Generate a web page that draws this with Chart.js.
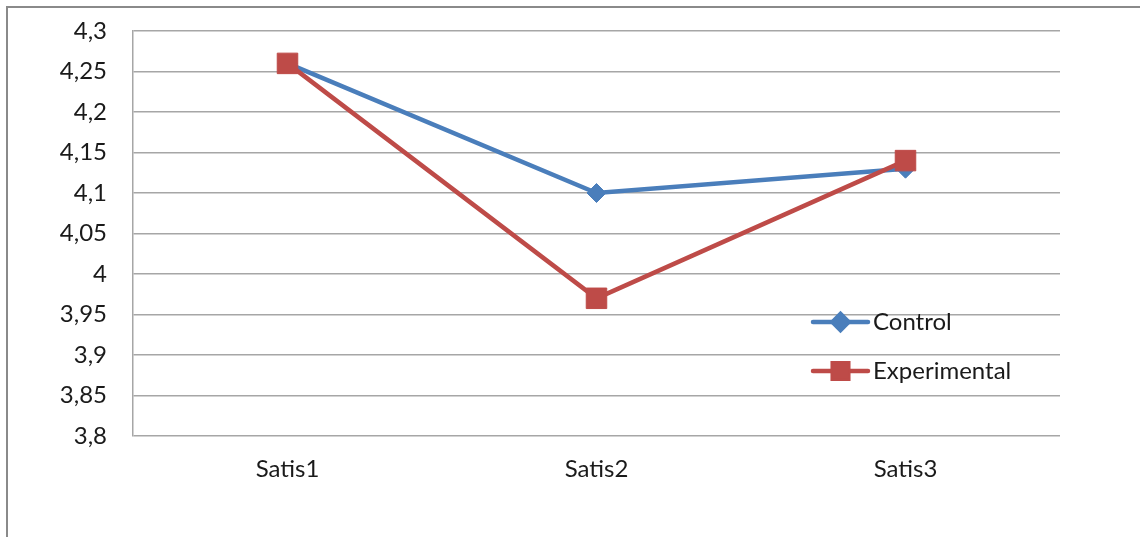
<!DOCTYPE html>
<html>
<head>
<meta charset="utf-8">
<script src="https://cdn.jsdelivr.net/npm/chart.js@4"></script>
<style>
  html, body { margin:0; padding:0; background:#fff; }
  #wrap { position:relative; width:1140px; height:537px; }
  #frame { position:absolute; left:6px; top:6px; right:0; bottom:-4px;
           border-top:2px solid #8a8a8a; border-left:2px solid #8a8a8a; pointer-events:none; }
  canvas { position:absolute; left:0; top:0; }
</style>
</head>
<body>
<div id="wrap">
  <canvas id="chart" width="1140" height="537"></canvas>
  <div id="frame"></div>
</div>
<script>
// ====== data ======
const categories = ['Satis1', 'Satis2', 'Satis3'];
const controlValues = [4.26, 4.10, 4.13];
const experimentalValues = [4.26, 3.97, 4.14];
const yMin = 3.8, yMax = 4.3, yStep = 0.05;

const BLUE = '#4a7ebb';
const RED = '#be4b48';
const FONT = 'Lato, "Open Sans", sans-serif';
const FONT_SIZE = 24;

// legend drawn inside the plot, like the Excel original
const insideLegend = {
  id: 'insideLegend',
  afterDraw(chart){
    const ctx = chart.ctx;
    const items = chart.data.datasets;
    const x0 = 813, lineLen = 55, y0 = 322, gap = 49;
    ctx.save();
    items.slice().sort((a,b)=> a.legendIndex - b.legendIndex).forEach((ds, i) => {
      const y = y0 + i*gap;
      ctx.strokeStyle = ds.borderColor;
      ctx.lineWidth = ds.borderWidth;
      ctx.lineCap = 'round';
      ctx.beginPath();
      ctx.moveTo(x0, y); ctx.lineTo(x0 + lineLen, y);
      ctx.stroke();
      Chart.helpers.drawPoint(ctx, {
        pointStyle: ds.pointStyle,
        radius: ds.legendRadius,
        borderWidth: 1
      }, x0 + lineLen/2, y);
      ctx.fillStyle = ds.backgroundColor;
      ctx.fill();
      ctx.fillStyle = '#1a1a1a';
      ctx.font = FONT_SIZE + 'px ' + FONT;
      ctx.textBaseline = 'middle';
      ctx.textAlign = 'left';
      ctx.fillText(ds.label, x0 + lineLen + 5, y);
    });
    ctx.restore();
  }
};

new Chart(document.getElementById('chart'), {
  type: 'line',
  data: {
    labels: categories,
    datasets: [
      {
        label: 'Experimental',
        data: experimentalValues,
        borderColor: RED,
        backgroundColor: RED,
        borderWidth: 4.5,
        pointStyle: 'rect',
        pointRadius: 14.5,
        pointHoverRadius: 14.5,
        pointBorderWidth: 1,
        legendIndex: 1,
        legendRadius: 11,
        tension: 0
      },
      {
        label: 'Control',
        data: controlValues,
        borderColor: BLUE,
        backgroundColor: BLUE,
        borderWidth: 4.5,
        pointStyle: 'rectRot',
        pointRadius: 9.5,
        pointHoverRadius: 9.5,
        pointBorderWidth: 1,
        legendIndex: 0,
        legendRadius: 8,
        tension: 0
      }
    ]
  },
  options: {
    responsive: false,
    animation: false,
    layout: { padding: { left: 0, top: 31, right: 80, bottom: 0 } },
    plugins: { legend: { display: false }, tooltip: { enabled: false } },
    scales: {
      x: {
        offset: true,
        grid: { display: false, drawTicks: false },
        border: { display: false },
        ticks: { color: '#1a1a1a', font: { family: FONT, size: FONT_SIZE }, padding: 19 },
        afterFit(s){ s.height = 101; s.paddingLeft = 0; s.paddingRight = 0; }
      },
      y: {
        min: yMin, max: yMax,
        grid: { color: '#a6a6a6', lineWidth: 1.5, drawTicks: false },
        border: { display: true, color: '#a6a6a6', width: 1.5 },
        ticks: {
          stepSize: yStep,
          color: '#1a1a1a',
          font: { family: FONT, size: FONT_SIZE },
          padding: 26,
          callback: v => String(Math.round(v*100)/100).replace('.', ',')
        },
        afterFit(s){ s.width = 133; s.paddingTop = 0; s.paddingBottom = 0; }
      }
    }
  },
  plugins: [insideLegend]
});
</script>
</body>
</html>
